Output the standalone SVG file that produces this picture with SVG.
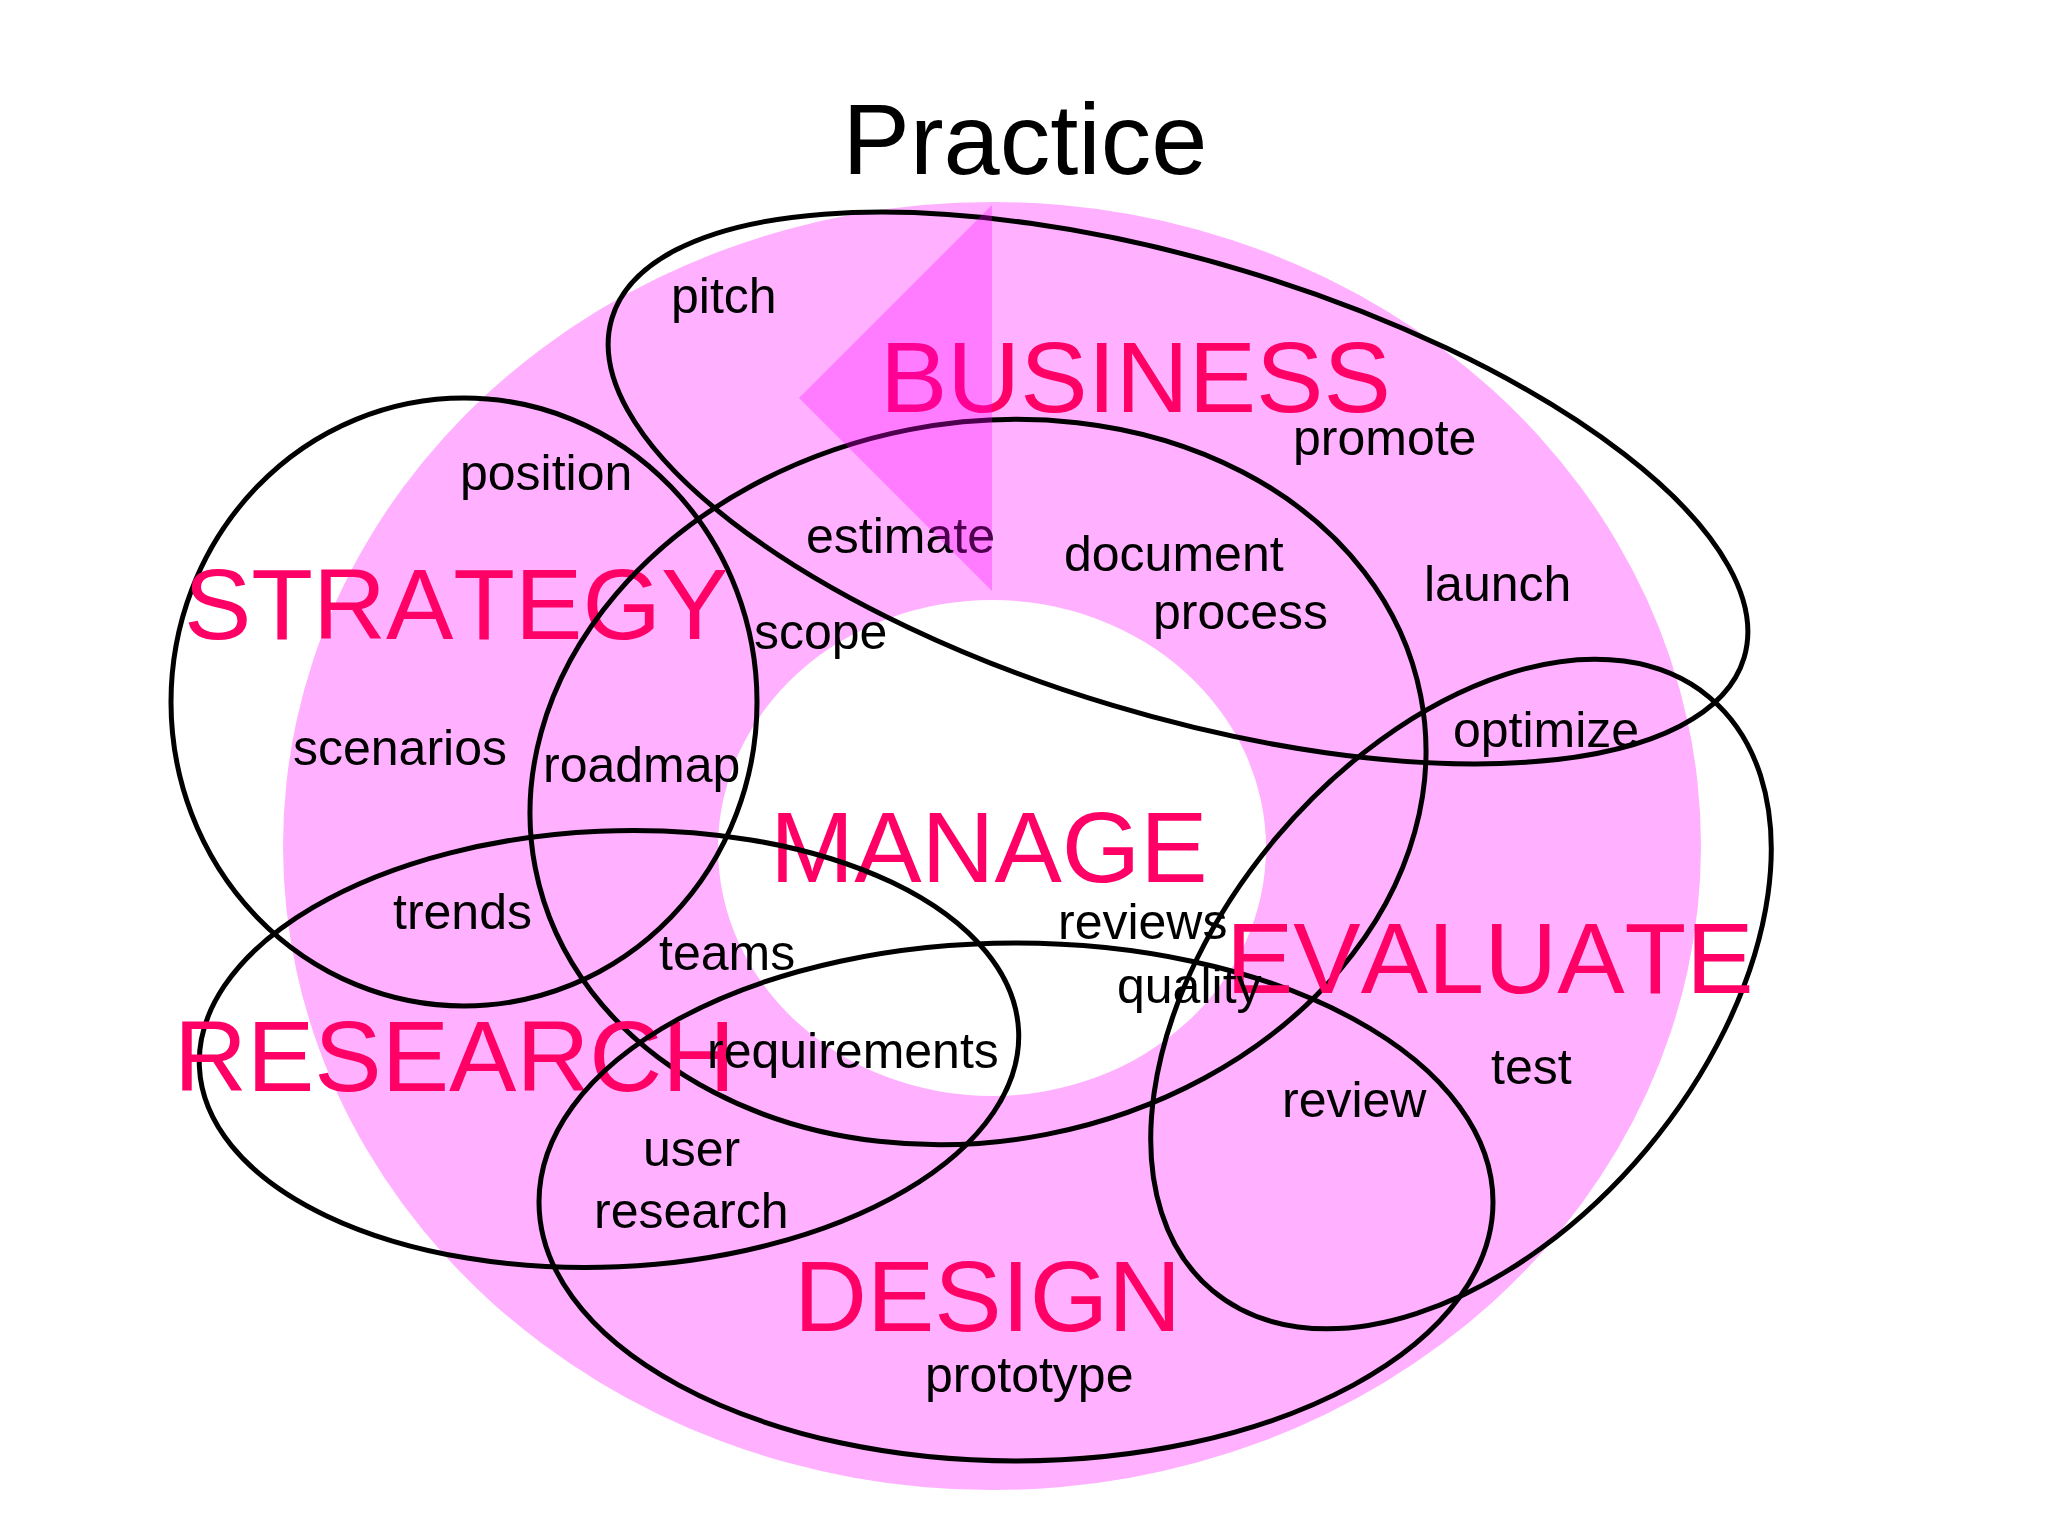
<svg xmlns="http://www.w3.org/2000/svg" width="2048" height="1536" viewBox="0 0 2048 1536">
<style>
.ring{fill:#FFB0FF;fill-rule:evenodd}
.wedge{fill:#FF00FF;fill-opacity:0.3}
.set{fill:none;stroke:#000;stroke-width:5}
text{font-family:"Liberation Sans",Arial,sans-serif;font-kerning:none}
.big{font-size:101px;fill:#FF0066}
.lbl{font-size:50px;fill:#000}
.title{font-size:101px;fill:#000;text-anchor:middle}
</style>
<rect width="2048" height="1536" fill="#fff"/>
<path class="ring" d="M283,846 a709,644 0 1,0 1418,0 a709,644 0 1,0 -1418,0 Z M718,848 a274,248 0 1,0 548,0 a274,248 0 1,0 -548,0 Z"/>
<text class="title" x="1025" y="174">Practice</text>
<g id="business">
<ellipse class="set" cx="1178" cy="488" rx="591" ry="227" transform="rotate(16.7 1178 488)"/>
<text class="big" x="880" y="412">BUSINESS</text>
</g>
<g id="strategy">
<ellipse class="set" cx="464" cy="702" rx="293" ry="304"/>
<text class="big" x="184" y="639">STRATEGY</text>
</g>
<g id="manage">
<ellipse class="set" cx="978" cy="782" rx="451" ry="359" transform="rotate(-11 978 782)"/>
<text class="big" x="770" y="882">MANAGE</text>
</g>
<g id="research">
<ellipse class="set" cx="609" cy="1049" rx="410" ry="218" transform="rotate(-2.5 609 1049)"/>
<text class="big" x="174" y="1091">RESEARCH</text>
</g>
<g id="design">
<ellipse class="set" cx="1016" cy="1202" rx="477" ry="259"/>
<text class="big" x="794" y="1331">DESIGN</text>
</g>
<g id="evaluate">
<ellipse class="set" cx="1461" cy="994" rx="387" ry="242" transform="rotate(-50 1461 994)"/>
<text class="big" x="1226" y="993">EVALUATE</text>
</g>
<g id="labels">
<text class="lbl" x="671" y="313">pitch</text>
<text class="lbl" x="460" y="490">position</text>
<text class="lbl" x="806" y="553">estimate</text>
<text class="lbl" x="754" y="649">scope</text>
<text class="lbl" x="1293" y="455">promote</text>
<text class="lbl" x="1064" y="571">document</text>
<text class="lbl" x="1153" y="629">process</text>
<text class="lbl" x="1424" y="601">launch</text>
<text class="lbl" x="1453" y="747">optimize</text>
<text class="lbl" x="293" y="765">scenarios</text>
<text class="lbl" x="543" y="782">roadmap</text>
<text class="lbl" x="393" y="929">trends</text>
<text class="lbl" x="659" y="970">teams</text>
<text class="lbl" x="707" y="1068">requirements</text>
<text class="lbl" x="643" y="1166">user</text>
<text class="lbl" x="594" y="1228">research</text>
<text class="lbl" x="925" y="1392">prototype</text>
<text class="lbl" x="1058" y="939">reviews</text>
<text class="lbl" x="1117" y="1003">quality</text>
<text class="lbl" x="1491" y="1084">test</text>
<text class="lbl" x="1282" y="1117">review</text>
</g>
<polygon class="wedge" points="992,205 799,398 992,591"/>
</svg>
